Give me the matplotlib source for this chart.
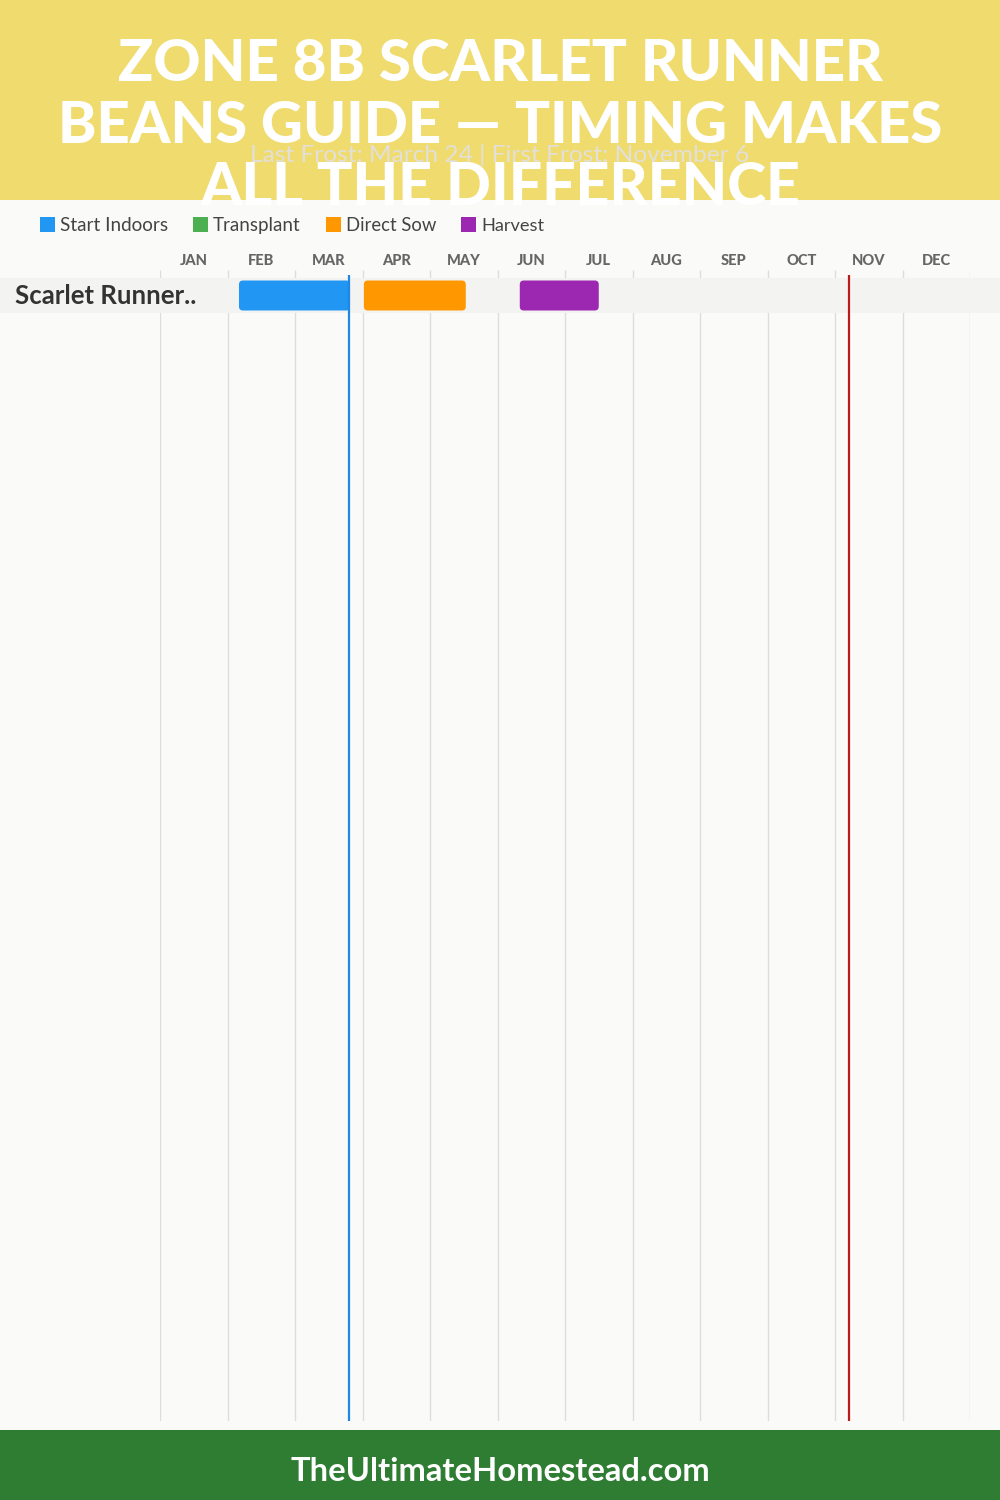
import matplotlib
matplotlib.use('Agg')
import matplotlib.pyplot as plt
from matplotlib.patches import FancyBboxPatch, Rectangle
from matplotlib.transforms import blended_transform_factory

# ---------------- data ----------------
title_lines = ["ZONE 8B SCARLET RUNNER", "BEANS GUIDE \u2014 TIMING MAKES", "ALL THE DIFFERENCE"]
subtitle = "Last Frost: March 24 | First Frost: November 6"
footer = "TheUltimateHomestead.com"
months = ["JAN", "FEB", "MAR", "APR", "MAY", "JUN", "JUL", "AUG", "SEP", "OCT", "NOV", "DEC"]
crops = ["Scarlet Runner.."]
legend_labels = ["Start Indoors", "Transplant", "Direct Sow", "Harvest"]
legend_colors = ["#2196F3", "#4CAF50", "#FF9800", "#9C27B0"]
# periods as (start, end) in month positions (month index + day/30)
start_indoors = [(1.17, 2.815)]
transplant = [None]
direct_sow = [(3.02, 4.53)]
harvest = [(5.33, 6.50)]
last_frost = 2 + 24 / 30     # March 24
first_frost = 10 + 6 / 30    # November 6

# ---------------- layout ----------------
W, H = 1000, 1500
fig = plt.figure(figsize=(10, 15), dpi=100)
fig.patch.set_facecolor('#FAFAF9')
renderer = fig.canvas.get_renderer()
FONT = ['Lato', 'DejaVu Sans']

def fit(t, target_w):
    bb = t.get_window_extent(renderer)
    t.set_fontsize(t.get_fontsize() * target_w / bb.width)

bg = fig.add_axes([0, 0, 1, 1])
bg.set_xlim(0, W)
bg.set_ylim(H, 0)
bg.axis('off')

header = Rectangle((0, 0), W, 200, facecolor='#F0DB6E', edgecolor='none')
bg.add_patch(header)
bg.add_patch(Rectangle((0, 1430), W, 70, facecolor='#2E7D32', edgecolor='none'))

for line, base, tw in zip(title_lines, [81, 143, 205], [766, 884, 600]):
    t = bg.text(500, base, line, ha='center', va='baseline', color='white',
                fontsize=40, fontweight='black', family=FONT)
    t.set_clip_path(header)
    fit(t, tw)

st = bg.text(500, 162, subtitle, ha='center', va='baseline', color='#E2E0D8',
             fontsize=15, family=FONT)
fit(st, 500)

ft = bg.text(500, 1481, footer, ha='center', va='baseline', color='white',
             fontsize=20, fontweight='bold', family=FONT)
fit(ft, 420)

# legend
lx = 40
for lab, col in zip(legend_labels, legend_colors):
    bg.add_patch(Rectangle((lx, 217), 15, 15, facecolor=col, edgecolor='none'))
    t = bg.text(lx + 20, 231, lab, ha='left', va='baseline', color='#444444',
                fontsize=12, family=FONT)
    fit(t, {"Start Indoors": 107, "Transplant": 87, "Direct Sow": 90, "Harvest": 63}[lab])
    bb = t.get_window_extent(renderer)
    lx = lx + 20 + bb.width + 25

# chart axes
ROW_H = 35.0
top_px, bot_px, row0_px = 270, 1421, 278
ax = fig.add_axes([160 / W, 1 - bot_px / H, 810 / W, (bot_px - top_px) / H])
ax.set_facecolor('none')
ylim_top = -(row0_px - top_px) / ROW_H
ylim_bot = (bot_px - row0_px) / ROW_H
ax.set_xlim(0, 12)
ax.set_ylim(ylim_bot, ylim_top)
for s in ax.spines.values():
    s.set_visible(False)
ax.set_yticks([])
ax.xaxis.tick_top()
ax.set_xticks([i + 0.5 for i in range(12)])
ax.set_xticklabels(months, fontsize=10.5, fontweight='black', color='#666666', family=FONT)
ax.tick_params(axis='x', length=0, pad=1.5)

ax.vlines(range(13), ylim_top, ylim_bot, color='#DDDDDD', lw=1, zorder=0.3)

blend = blended_transform_factory(fig.transFigure, ax.transData)
bar_h = 30 / ROW_H
x_per_px = 12 / 810
y_per_px = 1 / ROW_H
r_px = 4
for i, crop in enumerate(crops):
    ax.add_patch(Rectangle((0, i), 1, 1, transform=blend, facecolor='#F3F3F2',
                           edgecolor='none', clip_on=False, zorder=0.5))
    ct = ax.text(15 / W, i + 0.5 + 8.5 / ROW_H, crop, transform=blend, ha='left', va='baseline',
                 fontsize=16, fontweight='bold', color='#333333', family=FONT)
    fit(ct, 182)
    for series, col in zip([start_indoors, transplant, direct_sow, harvest], legend_colors):
        per = series[i]
        if per is None:
            continue
        s, e = per
        y0 = i + 0.5 - bar_h / 2
        ax.add_patch(FancyBboxPatch((s, y0), e - s, bar_h,
                                    boxstyle=f"round,pad=0,rounding_size={r_px * x_per_px}",
                                    mutation_aspect=y_per_px / x_per_px,
                                    facecolor=col, edgecolor='none', zorder=2))

frost_top = -(row0_px - 275) / ROW_H
ax.vlines([last_frost], frost_top, ylim_bot, color='#1E88E5', lw=1.6, zorder=3)
ax.vlines([first_frost], frost_top, ylim_bot, color='#B71C1C', lw=1.6, zorder=3)

fig.savefig('out.png', dpi=100, facecolor=fig.get_facecolor())
